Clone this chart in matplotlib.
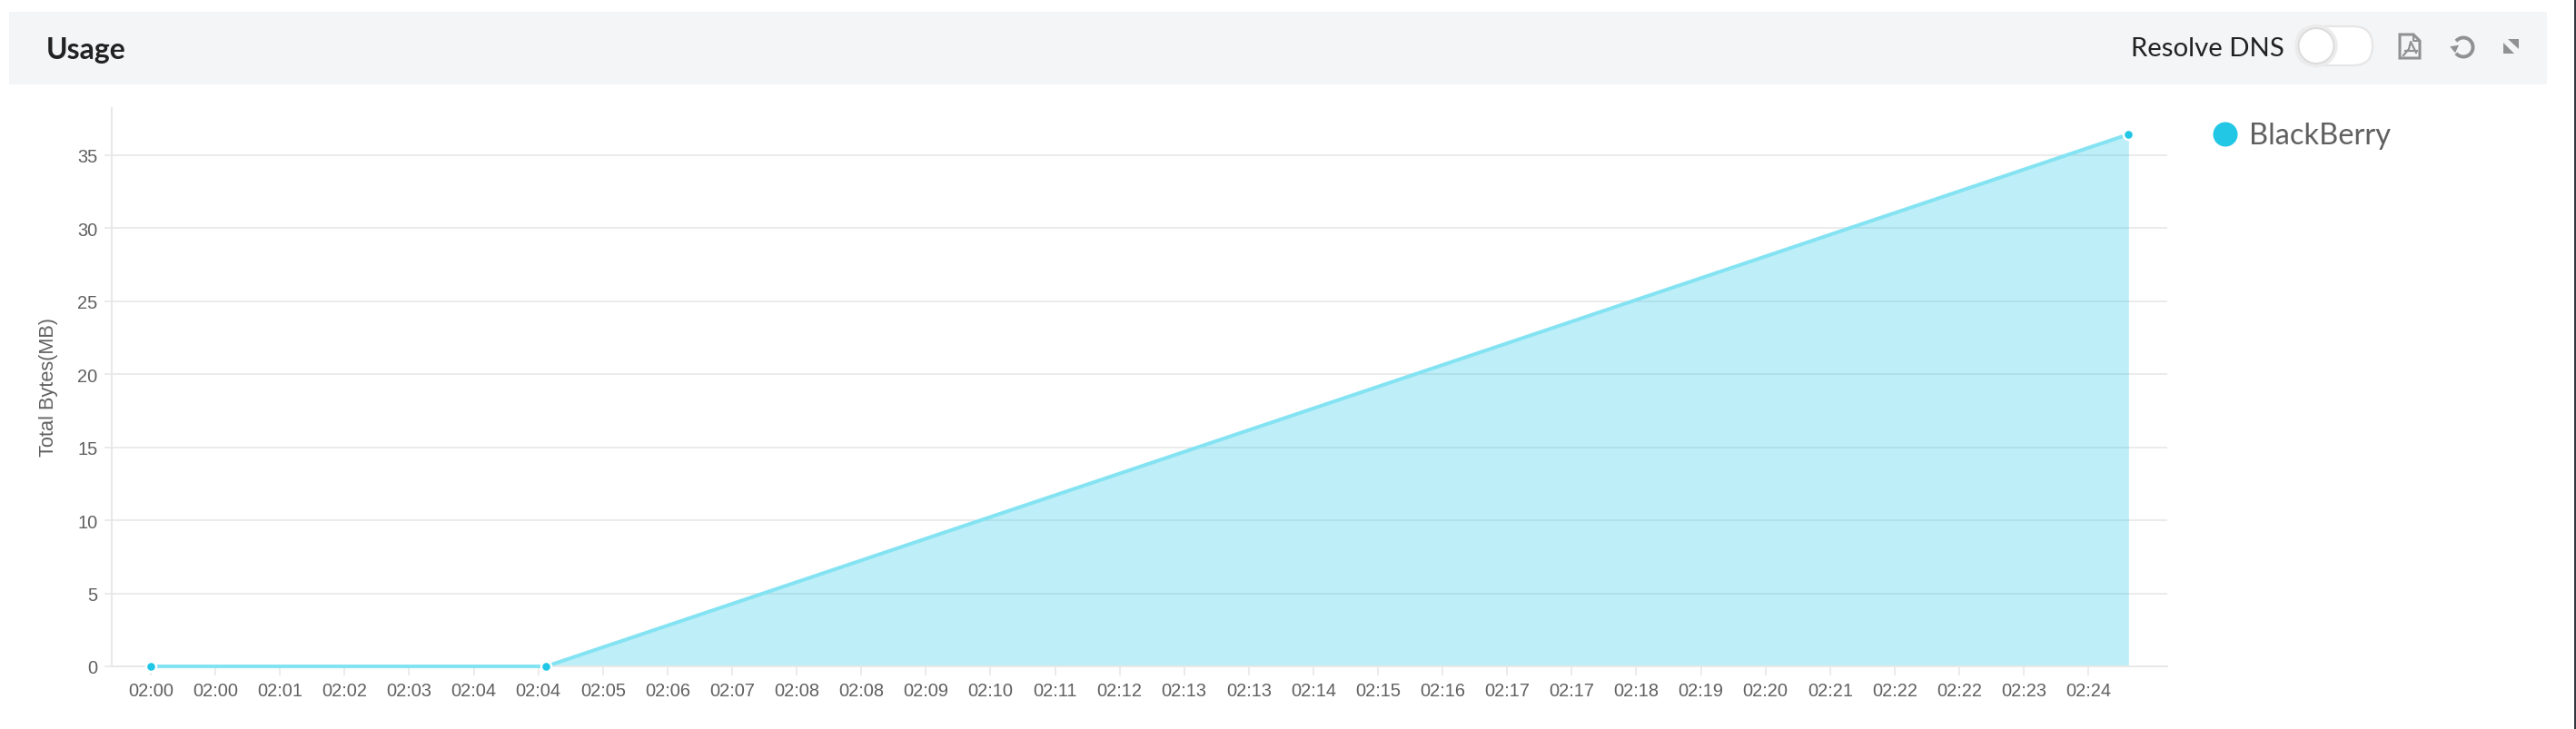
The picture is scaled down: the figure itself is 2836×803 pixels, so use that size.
from matplotlib import pyplot as plt
from matplotlib.patches import Circle, FancyBboxPatch, Polygon, Rectangle, Arc

x_labels = ['02:00', '02:00', '02:01', '02:02', '02:03', '02:04', '02:04', '02:05', '02:06', '02:07', '02:08',
            '02:08', '02:09', '02:10', '02:11', '02:12', '02:13', '02:13', '02:14', '02:15', '02:16', '02:17',
            '02:17', '02:18', '02:19', '02:20', '02:21', '02:22', '02:22', '02:23', '02:24']
y_ticks = [0, 5, 10, 15, 20, 25, 30, 35]
# x is in tick positions, the points do not sit exactly on the ticks
point_x = [0, 6.12, 30.62]
bytes_mb = [0, 0, 36.4]

W, H = 2836, 804
CYAN = '#22c7e6'
GRID = '#e8e8e8'
TEXT = '#606060'
ICON = '#8f9192'

fig = plt.figure(figsize=(W / 100, H / 100), dpi=100, facecolor='white')

# chart
ax = fig.add_axes([123 / W, 1 - 735 / H, (2386 - 123) / W, (735 - 120) / H])
ax.set_xlim(-0.605, 31.22)
ax.set_ylim(0, 38.2)
ax.set_axisbelow(True)
ax.fill_between(point_x, bytes_mb, color=CYAN, alpha=0.29, lw=0, zorder=2)
ax.plot(point_x, bytes_mb, color='#84e3f2', lw=2.9, zorder=3, clip_on=False, solid_capstyle='butt')
ax.plot(point_x, bytes_mb, 'o', color=CYAN, ms=8, mec='white', mew=1.8, zorder=4, clip_on=False)

for s in ['top', 'right']:
    ax.spines[s].set_visible(False)
for s in ['left', 'bottom']:
    ax.spines[s].set_color(GRID)
    ax.spines[s].set_linewidth(1.5)
ax.set_yticks(y_ticks)
ax.set_xticks(range(len(x_labels)))
ax.set_xticklabels(x_labels)
ax.grid(axis='y', color=GRID, lw=1.2, zorder=1)
ax.tick_params(axis='x', length=7, width=1.2, color=GRID, labelcolor=TEXT, pad=5, labelsize=14.4)
ax.tick_params(axis='y', length=6, width=1.2, color=GRID, labelcolor=TEXT, pad=5, labelsize=14.4)
for t in ax.get_xticklabels() + ax.get_yticklabels():
    t.set_family('Liberation Sans')

# everything else is placed in pixels
ui = fig.add_axes([0, 0, 1, 1], facecolor='none')
ui.set_xlim(0, W)
ui.set_ylim(H, 0)
ui.axis('off')

ui.text(54, 427, 'Total Bytes(MB)', rotation=90, ha='center', va='center', color=TEXT,
        family='Liberation Sans', fontsize=15.7)

ui.add_patch(Rectangle((10, 14), 2794, 80, fc='#f4f5f7', ec='none', zorder=0))
ui.text(51, 55, 'Usage', family='Lato', weight='bold', fontsize=23, color='#222222', ha='left', va='center')
ui.text(2346, 53.5, 'Resolve DNS', family='Lato', fontsize=21.2, color='#222222', ha='left', va='center')

# toggle
ui.add_patch(FancyBboxPatch((2528, 30), 84, 43, boxstyle='round,pad=0,rounding_size=21.5',
                            fc='white', ec='#e6e6e6', lw=1.6))
ui.add_patch(Circle((2550, 51.5), 22, fc='white', ec='#ececec', lw=2.5))
ui.add_patch(Circle((2550, 51.5), 19.5, fc='white', ec='#dcdcdc', lw=1.5))

# pdf icon
ui.add_patch(Polygon([(2642, 39), (2657, 39), (2664, 46), (2664, 65), (2642, 65)], closed=True,
                     fc='none', ec=ICON, lw=2.2))
ui.plot([2657, 2657, 2664], [39, 46, 46], color=ICON, lw=1.5)
ui.plot([2646, 2652, 2654, 2660], [62, 55, 47, 59], color=ICON, lw=1.6)
ui.plot([2648, 2661], [57, 57], color=ICON, lw=1.6)

# refresh icon
ui.add_patch(Arc((2712, 53), 21, 21, theta1=-140, theta2=140, color=ICON, lw=2.8))
ui.add_patch(Polygon([(2697.3, 52.3), (2707, 50.7), (2703, 59.3)], closed=True, fc=ICON, ec='none'))

# expand icon
ui.add_patch(Polygon([(2761, 44), (2773, 44), (2773, 55)], closed=True, fc=ICON, ec='none'))
ui.add_patch(Polygon([(2756, 48), (2756, 60), (2768, 60)], closed=True, fc=ICON, ec='none'))

# legend
ui.add_patch(Circle((2450, 149), 13.5, fc=CYAN, ec='none'))
ui.text(2476, 150, 'BlackBerry', family='Lato', fontsize=23.5, color=TEXT, ha='left', va='center')

# screenshot edge on the right
ui.add_patch(Rectangle((2834, 0), 2, H, fc='#33373d', ec='none'))

fig.savefig('out.png', dpi=100)
